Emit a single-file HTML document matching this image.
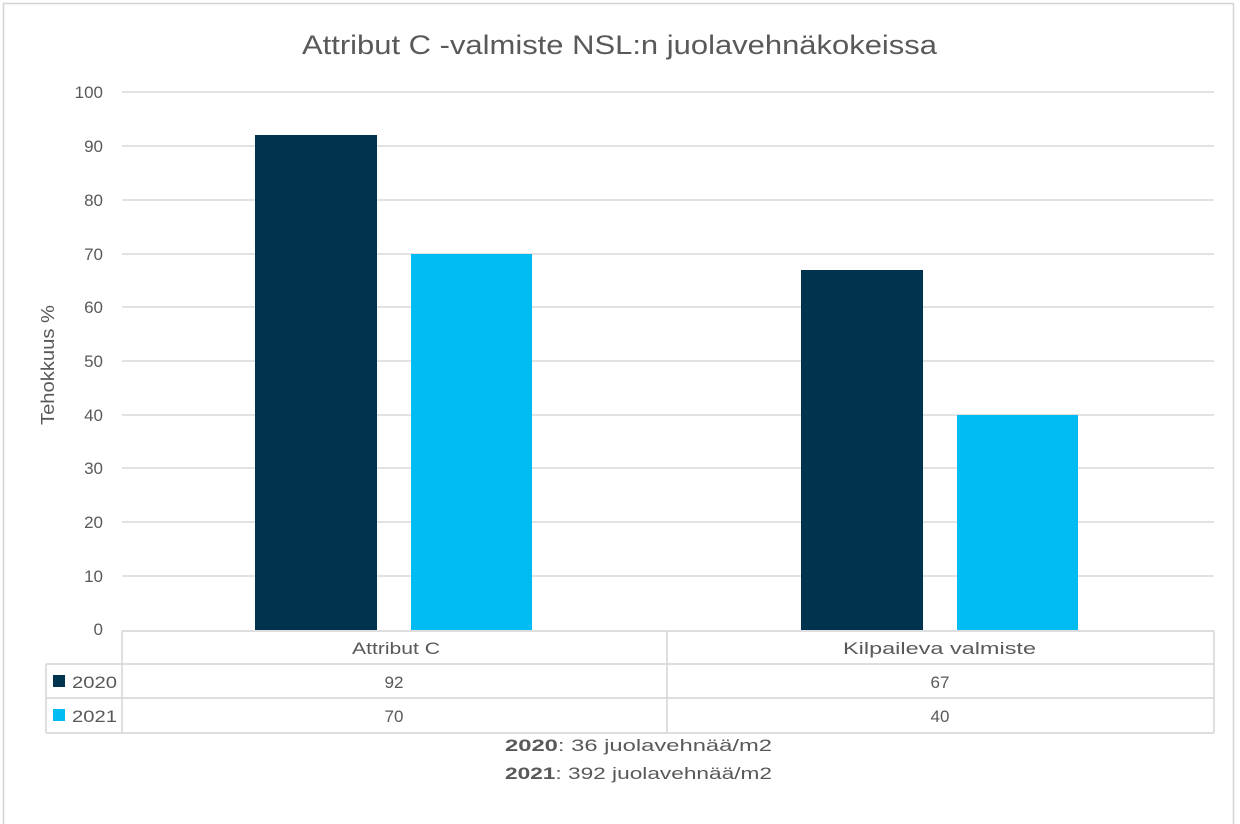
<!DOCTYPE html>
<html><head><meta charset="utf-8"><style>
html,body{margin:0;padding:0;background:#fff}
svg{display:block}
text{font-family:"Liberation Sans",sans-serif;fill:#595959}
</style></head><body>
<svg width="1240" height="824" viewBox="0 0 1240 824" xmlns="http://www.w3.org/2000/svg">
<rect x="3.5" y="3.5" width="1230" height="830" fill="#fff" stroke="#d4d4d4" stroke-width="1.5"/>
<text x="302" y="54" font-size="27" textLength="635" lengthAdjust="spacingAndGlyphs">Attribut C -valmiste NSL:n juolavehnäkokeissa</text>
<g stroke="#d9d9d9" stroke-width="1.5">
<line x1="122" x2="1214" y1="92" y2="92"/>
<line x1="122" x2="1214" y1="146" y2="146"/>
<line x1="122" x2="1214" y1="200" y2="200"/>
<line x1="122" x2="1214" y1="254" y2="254"/>
<line x1="122" x2="1214" y1="307" y2="307"/>
<line x1="122" x2="1214" y1="361" y2="361"/>
<line x1="122" x2="1214" y1="415" y2="415"/>
<line x1="122" x2="1214" y1="468" y2="468"/>
<line x1="122" x2="1214" y1="522" y2="522"/>
<line x1="122" x2="1214" y1="576" y2="576"/>
</g>
<g font-size="17" text-anchor="end">
<text x="103" y="98">100</text><text x="103" y="152">90</text><text x="103" y="206">80</text>
<text x="103" y="260">70</text><text x="103" y="313">60</text><text x="103" y="367">50</text>
<text x="103" y="421">40</text><text x="103" y="474">30</text><text x="103" y="528">20</text>
<text x="103" y="582">10</text><text x="103" y="635">0</text>
</g>
<text transform="translate(54,365) rotate(-90)" font-size="18" text-anchor="middle" textLength="120" lengthAdjust="spacingAndGlyphs">Tehokkuus %</text>
<rect x="255" y="135" width="122" height="495" fill="#00334e"/>
<rect x="411" y="254" width="121" height="376" fill="#00bcf2"/>
<rect x="801" y="270" width="122" height="360" fill="#00334e"/>
<rect x="957" y="415" width="121" height="215" fill="#00bcf2"/>
<g stroke="#d4d4d4" stroke-width="1.5" fill="none">
<line x1="122" x2="1214" y1="631" y2="631"/>
<line x1="46" x2="1214" y1="664" y2="664"/>
<line x1="46" x2="1214" y1="698" y2="698"/>
<line x1="46" x2="1214" y1="733" y2="733"/>
<line x1="46" x2="46" y1="664" y2="733"/>
<line x1="122" x2="122" y1="631" y2="733"/>
<line x1="667" x2="667" y1="631" y2="733"/>
<line x1="1214" x2="1214" y1="631" y2="733"/>
</g>
<g font-size="17">
<text x="352" y="654" textLength="88" lengthAdjust="spacingAndGlyphs">Attribut C</text>
<text x="843" y="654" textLength="193" lengthAdjust="spacingAndGlyphs">Kilpaileva valmiste</text>
</g>
<g font-size="17" text-anchor="middle">
<text x="394" y="688">92</text><text x="940" y="688">67</text>
<text x="394" y="722">70</text><text x="940" y="722">40</text>
</g>
<rect x="53" y="675" width="12" height="12" fill="#00334e"/>
<rect x="53" y="709" width="12" height="12" fill="#00bcf2"/>
<text x="72" y="688" font-size="17" textLength="45" lengthAdjust="spacingAndGlyphs">2020</text>
<text x="72" y="722" font-size="17" textLength="45" lengthAdjust="spacingAndGlyphs">2021</text>
<g font-size="17" style="fill:#404040">
<text x="505" y="751" textLength="267" lengthAdjust="spacingAndGlyphs"><tspan font-weight="bold">2020</tspan>: 36 juolavehnää/m2</text>
<text x="505" y="779" textLength="267" lengthAdjust="spacingAndGlyphs"><tspan font-weight="bold">2021</tspan>: 392 juolavehnää/m2</text>
</g>
</svg>
</body></html>
